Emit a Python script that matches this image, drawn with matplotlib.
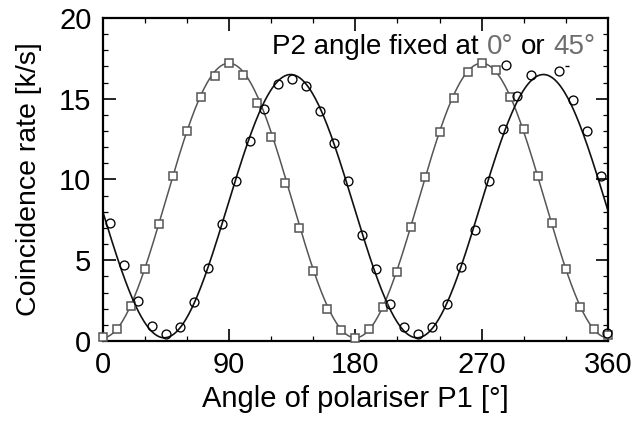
import numpy as np
import matplotlib
matplotlib.use("Agg")
import matplotlib.pyplot as plt
from matplotlib.ticker import MultipleLocator

plt.rcParams["font.family"] = ["Liberation Sans", "DejaVu Sans"]

# P2 fixed at 45 deg (squares, grey)
angle_sq = [0, 10, 20, 30, 40, 50, 60, 70, 80, 90, 100, 110, 120, 130, 140, 150,
            160, 170, 180, 190, 200, 210, 220, 230, 240, 250, 260, 270, 280, 290,
            300, 310, 320, 330, 340, 350, 360]
rate_sq = [0.27, 0.75, 2.19, 4.44, 7.24, 10.24, 13.0, 15.13, 16.4, 17.23, 16.5,
           14.76, 12.65, 9.76, 6.98, 4.31, 1.98, 0.68, 0.2, 0.74, 2.09, 4.29, 7.04,
           10.15, 12.96, 15.03, 16.68, 17.2, 16.78, 15.09, 13.1, 10.24, 7.33, 4.44,
           2.1, 0.74, 0.4]

# P2 fixed at 0 deg (circles, black)
angle_c = [5, 15, 25, 35, 45, 55, 65, 75, 85, 95, 105, 115, 125, 135, 145, 155,
           165, 175, 185, 195, 205, 215, 225, 235, 245, 255, 265, 275, 285, 287.5,
           295, 305, 325, 335, 345, 355, 359]
rate_c = [7.29, 4.71, 2.45, 0.95, 0.41, 0.87, 2.41, 4.50, 7.22, 9.93, 12.4, 14.35,
          15.9, 16.2, 15.8, 14.26, 12.28, 9.93, 6.56, 4.44, 2.31, 0.87, 0.41, 0.89,
          2.31, 4.58, 6.85, 9.93, 13.1, 17.1, 15.2, 16.5, 16.7, 14.9, 13.0, 10.2, 0.5]

# Malus-law fits: offset + amplitude * cos^2(theta - phase)
fit_sq = dict(offset=0.2, amplitude=17.0, phase=90.0)
fit_c = dict(offset=0.2, amplitude=16.3, phase=134.0)

xticks = [0, 90, 180, 270, 360]
yticks = [0, 5, 10, 15, 20]

GREY = "#555555"
TEXT_GREY = "#6e6e6e"
LABEL_SIZE = 21
TITLE_SIZE = 20


def malus(theta, offset, amplitude, phase):
    return offset + amplitude * np.cos(np.radians(theta - phase)) ** 2


W, H = 634, 428
fig = plt.figure(figsize=(W / 100, H / 100), dpi=100)
ax = fig.add_axes([102.5 / W, 1 - 341 / H, (608 - 102.5) / W, (341 - 18) / H])

theta = np.linspace(0, 360, 721)
ax.plot(theta, malus(theta, **fit_sq), color=GREY, lw=1.1, zorder=2)
ax.plot(theta, malus(theta, **fit_c), color="#111111", lw=1.2, zorder=2)

ax.plot(angle_sq, rate_sq, ls="none", marker="s", ms=5.5, mfc="white",
        mec=GREY, mew=1.1, zorder=3, clip_on=False)
ax.plot(angle_c, rate_c, ls="none", marker="o", ms=6.4, mfc="none",
        mec="black", mew=0.95, zorder=3, clip_on=False)
ax.plot([331], [17.0], ls="none", marker="_", ms=2.5, mec="black", mew=1.0)

ax.set_xlim(0, 360)
ax.set_ylim(0, 20)
ax.set_xticks(xticks)
ax.set_yticks(yticks)
ax.xaxis.set_minor_locator(MultipleLocator(30))
ax.yaxis.set_minor_locator(MultipleLocator(1))
ax.tick_params(which="both", direction="in", top=True, right=True,
               colors="black", labelsize=LABEL_SIZE)
ax.tick_params(axis="x", which="major", length=9, width=1.2, pad=7)
ax.tick_params(axis="y", which="major", length=9, width=1.2, pad=8)
ax.tick_params(which="minor", length=3.8, width=0.9)
for sp in ax.spines.values():
    sp.set_linewidth(1.6)

fig.text(29 / W, 1 - 179.5 / H, "Coincidence rate [k/s]", rotation=90,
         ha="center", va="center", fontsize=LABEL_SIZE - 0.5)
fig.text(355 / W, 1 - 407 / H, "Angle of polariser P1 [°]",
         ha="center", va="baseline", fontsize=LABEL_SIZE)

# Title built from coloured pieces, right-aligned at a fixed point
pieces = [("P2 angle fixed at", "black"), (" 0°", TEXT_GREY),
          (" or", "black"), (" 45°", TEXT_GREY)]
renderer = fig.canvas.get_renderer()


def width_px(s):
    t = fig.text(0, 0, s, fontsize=TITLE_SIZE)
    w = t.get_window_extent(renderer).width
    t.remove()
    return w


full = "".join(p for p, _ in pieces)
w_full = width_px(full)
x_right = 595.0
y_base = 1 - 54 / H
prefix = ""
for s, col in pieces:
    prefix += s
    xr = x_right - (w_full - width_px(prefix))
    fig.text(xr / W, y_base, s.strip(), color=col, fontsize=TITLE_SIZE,
             ha="right", va="baseline")

fig.savefig("out.png", dpi=100)
